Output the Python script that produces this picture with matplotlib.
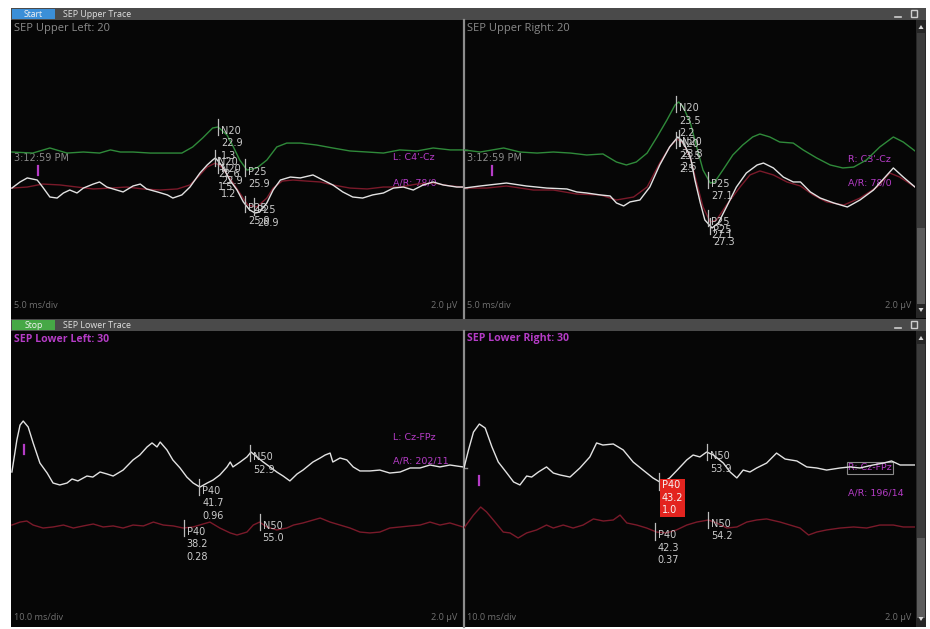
import numpy as np
import matplotlib
matplotlib.use("Agg")
import matplotlib.pyplot as plt
from matplotlib.patches import Rectangle, Polygon

# ---------------------------------------------------------------- data
# Upper montage (5.0 ms/div, 2.0 uV/div): time in ms, amplitude in uV
UL_T_GREEN = [0.1, 2.4, 4.3, 6.2, 8.0, 9.8, 11.0, 12.1, 13.5, 15.4, 17.3, 18.9, 20.1, 21.2, 22.3,
              22.9, 23.9, 24.6, 25.3, 26.1, 27.2, 28.3, 29.4, 30.5, 32.0, 33.8, 35.6, 37.5, 39.4,
              41.2, 43.0, 44.9, 46.7, 48.6, 50.0]
UL_V_GREEN = [1.14, 1.07, 1.41, 1.07, 1.14, 1.07, 1.28, 1.14, 1.14, 1.07, 1.07, 1.07, 1.48, 2.08,
              2.75, 2.82, 2.28, 1.48, 0.60, -0.07, 0.07, 0.60, 1.48, 1.74, 1.74, 1.61, 1.41, 1.21,
              1.14, 1.07, 1.28, 1.21, 1.41, 1.28, 1.28]
UL_T_WHITE = [0.1, 1.0, 1.8, 2.9, 3.5, 4.3, 5.1, 5.8, 6.5, 7.3, 8.0, 9.1, 9.8, 10.6, 11.3, 12.4,
              13.5, 14.3, 15.0, 16.2, 17.3, 17.9, 18.9, 19.8, 20.9, 21.7, 22.3, 22.6, 23.1, 23.5,
              24.2, 25.0, 25.7, 26.4, 27.0, 27.5, 28.3, 29.0, 29.8, 30.9, 32.0, 33.4, 34.5, 35.6,
              36.7, 37.8, 38.9, 40.0, 41.2, 42.3, 43.4, 44.5, 45.6, 46.7, 47.8, 49.3, 50.0]
UL_V_WHITE = [-1.28, -0.87, -0.60, -0.74, -1.21, -1.88, -1.95, -1.61, -1.41, -1.61, -1.28, -1.01,
              -0.87, -1.21, -1.34, -1.54, -1.14, -1.01, -1.34, -1.54, -1.74, -1.95, -1.74, -1.21,
              -0.27, 0.27, 0.60, 0.74, 0.40, 0.07, -0.74, -1.41, -2.21, -2.75, -2.95, -2.89,
              -2.28, -1.41, -0.74, -0.54, -0.60, -0.40, -0.74, -1.07, -1.54, -1.88, -1.95, -1.74,
              -1.61, -1.28, -1.21, -1.41, -1.07, -0.87, -1.07, -1.21, -1.21]
UL_T_RED = [0.1, 1.8, 3.5, 5.4, 7.3, 9.1, 11.0, 12.8, 14.6, 16.5, 18.4, 19.8, 20.9, 21.7, 22.6,
            23.3, 24.2, 25.3, 26.2, 27.2, 28.3, 29.0, 30.0, 31.2, 32.7, 34.2, 35.6, 37.5, 39.4,
            41.2, 43.0, 44.9, 46.7, 48.6, 50.0]
UL_V_RED = [-1.28, -1.21, -1.01, -1.07, -1.21, -1.34, -1.28, -1.21, -1.34, -1.41, -1.34, -1.07,
            -0.40, 0.13, 0.40, 0.13, -0.60, -1.61, -2.42, -2.55, -1.95, -1.28, -0.81, -0.74, -0.81,
            -0.87, -1.07, -1.28, -1.34, -1.21, -1.21, -1.01, -0.94, -1.14, -1.21]

UR_T_GREEN = [0.0, 1.8, 4.4, 6.2, 8.1, 9.9, 11.8, 13.6, 15.4, 16.9, 18.0, 19.1, 20.3, 21.4, 22.5,
              23.4, 23.8, 24.3, 25.1, 25.8, 26.5, 27.3, 27.8, 28.7, 29.8, 30.9, 32.0, 32.8, 33.9,
              35.0, 36.5, 37.6, 39.1, 40.6, 42.0, 43.2, 44.6, 46.1, 47.6, 48.7, 50.0]
UR_V_GREEN = [1.28, 1.14, 1.41, 1.14, 1.07, 1.14, 1.07, 0.94, 1.01, 0.47, 0.27, 0.47, 1.07, 2.15,
              3.29, 4.30, 4.50, 4.16, 3.09, 1.48, -0.07, -0.94, -0.87, -0.07, 0.94, 1.61, 2.15,
              2.35, 2.15, 1.81, 1.74, 1.28, 0.74, 0.27, 0.07, 0.13, 0.60, 1.48, 2.15, 1.81, 1.21]
UR_T_WHITE = [0.0, 1.8, 4.7, 6.9, 9.2, 11.4, 12.5, 13.6, 15.1, 16.2, 16.9, 17.7, 18.4, 19.5, 20.6,
              21.7, 22.8, 23.7, 24.3, 25.1, 25.6, 26.2, 26.7, 27.5, 28.2, 29.1, 30.2, 31.3, 32.5,
              33.2, 34.3, 35.4, 36.5, 37.3, 38.4, 39.5, 41.0, 42.5, 43.9, 45.4, 46.9, 47.6, 48.7,
              50.0]
UR_V_WHITE = [-1.28, -1.14, -0.94, -1.14, -1.28, -1.34, -1.54, -1.61, -1.74, -1.81, -2.28, -2.48,
              -2.21, -2.08, -1.21, 0.27, 1.48, 2.15, 1.81, 0.81, -0.74, -2.28, -3.42, -3.96, -3.62,
              -2.55, -1.21, -0.27, 0.27, 0.40, 0.07, -0.54, -0.87, -0.87, -1.54, -1.95, -2.28,
              -2.55, -2.08, -1.41, -0.40, 0.07, -0.54, -1.21]
UR_T_RED = [0.0, 2.5, 4.7, 7.7, 9.9, 12.5, 15.1, 16.9, 18.8, 20.3, 21.7, 22.8, 23.6, 24.3, 25.1,
            25.8, 26.5, 27.3, 28.0, 29.1, 30.6, 31.7, 32.8, 34.3, 35.8, 37.3, 38.7, 40.2, 42.1,
            43.9, 45.8, 47.2, 48.3, 50.0]
UR_V_RED = [-1.28, -1.28, -1.14, -1.41, -1.41, -1.68, -1.74, -2.08, -1.88, -1.21, 0.40, 1.48, 2.01,
            1.74, 0.74, -0.94, -2.55, -3.56, -3.42, -2.42, -1.21, -0.40, -0.13, -0.40, -0.87,
            -1.14, -1.74, -2.21, -2.42, -1.95, -1.21, -0.27, -0.54, -1.21]

# Lower montage (10.0 ms/div, 2.0 uV/div)
LL_T_WHITE = [0.2, 1.3, 2.0, 2.7, 3.8, 4.9, 6.4, 8.0, 9.3, 10.8, 12.4, 13.5, 14.8, 16.8, 18.1,
              19.7, 21.2, 22.6, 24.8, 27.0, 28.5, 30.1, 31.2, 32.3, 33.0, 34.5, 35.8, 37.4, 38.9,
              40.3, 41.8, 43.4, 44.7, 46.2, 47.8, 48.5, 49.1, 50.7, 52.2, 53.1, 54.4, 55.8, 57.3,
              58.8, 60.2, 61.7, 63.3, 64.6, 66.8, 68.4, 69.5, 70.6, 71.2, 72.8, 74.3, 75.7, 77.2,
              79.4, 81.6, 83.8, 86.1, 88.3, 90.5, 92.7, 94.9, 97.1, 100.0]
LL_V_WHITE = [0.47, 2.62, 3.62, 3.89, 3.49, 2.42, 1.07, 0.40, -0.27, -0.40, -0.27, 0.00, -0.13,
              0.20, 0.13, 0.47, 0.34, 0.20, 0.60, 1.28, 1.61, 2.15, 2.42, 2.15, 2.48, 1.95, 1.28,
              0.74, 0.13, -0.27, -0.54, -0.27, -0.07, 0.27, 0.81, 1.14, 0.81, 1.14, 1.48, 1.81,
              1.48, 1.14, 0.81, 0.47, 0.20, -0.13, 0.34, 0.60, 1.14, 1.41, 1.61, 1.74, 1.14, 1.41,
              1.28, 0.81, 0.54, 0.54, 0.60, 0.40, 0.47, 0.74, 0.74, 0.94, 0.81, 0.94, 0.81]
LL_T_RED = [0.2, 2.0, 3.5, 4.9, 7.1, 9.3, 11.6, 13.8, 16.0, 18.2, 20.4, 22.6, 24.8, 27.0, 29.3,
            31.5, 33.7, 35.9, 38.1, 40.3, 42.5, 44.0, 46.2, 48.5, 50.0, 52.2, 53.6, 55.0, 56.6,
            58.8, 61.0, 62.5, 64.6, 66.9, 68.4, 70.6, 72.8, 75.0, 77.2, 79.4, 81.6, 83.8, 86.1,
            88.3, 90.5, 92.7, 94.9, 97.1, 100.0]
LL_V_RED = [-3.09, -2.89, -2.82, -3.09, -3.29, -3.22, -3.09, -3.29, -3.15, -3.02, -3.22, -3.15,
            -3.29, -3.09, -3.15, -2.89, -3.09, -3.15, -3.29, -3.22, -3.02, -2.89, -3.29, -3.62,
            -3.76, -3.56, -3.09, -2.89, -3.22, -3.42, -3.29, -3.09, -2.95, -2.75, -2.62, -2.89,
            -3.09, -3.29, -3.56, -3.62, -3.56, -3.29, -3.22, -3.15, -3.09, -2.89, -3.09, -2.95,
            -3.22]

LR_T_WHITE = [0.0, 1.0, 2.1, 3.4, 4.7, 6.2, 7.6, 9.5, 11.0, 12.4, 13.9, 15.0, 16.5, 18.3, 19.8,
              21.3, 23.5, 25.7, 27.9, 29.4, 30.8, 33.1, 35.3, 37.5, 39.7, 41.9, 43.8, 45.6, 47.1,
              49.4, 50.8, 52.3, 53.8, 55.3, 57.5, 59.0, 60.5, 61.9, 63.4, 64.9, 67.1, 69.3, 71.2,
              73.8, 76.0, 78.2, 80.4, 83.4, 85.6, 87.8, 90.7, 93.0, 94.8, 96.7, 100.0]
LR_V_WHITE = [0.74, 1.95, 3.15, 3.69, 3.42, 2.15, 1.14, 0.40, -0.20, -0.40, 0.20, 0.13, 0.47, 0.81,
              0.40, 0.27, 0.13, 0.74, 1.48, 2.42, 2.28, 2.35, 1.95, 1.14, 0.60, 0.07, -0.27, 0.07,
              0.54, 1.28, 1.61, 1.48, 1.81, 1.61, 1.07, 0.47, 0.07, 0.60, 0.47, 0.74, 1.07, 1.74,
              1.34, 1.21, 0.81, 0.74, 0.60, 0.74, 0.81, 0.74, 0.94, 1.07, 1.21, 0.94, 0.94]
LR_T_RED = [0.0, 2.1, 3.7, 5.0, 6.5, 8.7, 10.2, 12.0, 13.9, 16.1, 18.3, 19.8, 22.0, 24.2, 26.4,
            28.7, 30.9, 33.1, 34.6, 36.1, 38.3, 40.5, 42.7, 44.9, 47.1, 49.4, 51.6, 54.2, 56.0,
            58.3, 60.5, 62.7, 64.9, 67.1, 70.1, 72.3, 74.5, 76.4, 78.2, 80.4, 83.4, 86.4, 89.3,
            92.2, 95.2, 97.4, 100.0]
LR_V_RED = [-3.29, -2.42, -1.88, -2.21, -2.75, -3.56, -3.62, -3.96, -3.62, -3.42, -3.09, -3.29,
            -3.09, -3.29, -3.09, -2.68, -2.82, -2.75, -2.42, -2.95, -3.09, -3.29, -3.56, -3.62,
            -3.42, -3.09, -2.89, -2.75, -2.95, -3.29, -3.22, -2.89, -2.75, -2.68, -2.89, -3.09,
            -3.29, -3.76, -3.56, -3.42, -3.29, -3.22, -3.29, -3.09, -3.09, -3.22, -3.22]

# Peak markers: (trace, component, latency ms, peak-to-peak uV)
UL_PEAKS = [("green", "N20", 22.9, "1.3"), ("green", "P25", 25.9, None),
            ("white", "N20", 22.6, "1.5"), ("white", "P25", 25.9, None),
            ("red", "N20", 22.9, "1.2"), ("red", "P25", 26.9, None)]
UR_PEAKS = [("green", "N20", 23.5, "2.2"), ("green", "P25", 27.1, None),
            ("white", "N20", 23.8, "2.6"), ("white", "P25", 27.3, None),
            ("red", "N20", 23.5, "2.5"), ("red", "P25", 27.1, None)]
LL_PEAKS = [("white", "P40", 41.7, "0.96"), ("white", "N50", 52.9, None),
            ("red", "P40", 38.2, "0.28"), ("red", "N50", 55.0, None)]
LR_PEAKS = [("white", "P40", 43.2, "1.0"), ("white", "N50", 53.9, None),
            ("red", "P40", 42.3, "0.37"), ("red", "N50", 54.2, None)]
SELECTED = ("LR", "white", "P40")

PANEL_TITLES = ["SEP Upper Left: 20", "SEP Upper Right: 20", "SEP Lower Left: 30", "SEP Lower Right: 30"]
CHANNELS = ["L: C4'-Cz", "R: C3'-Cz", "L: Cz-FPz", "R: Cz-FPz"]
ARTIFACTS = ["A/R: 78/0", "A/R: 78/0", "A/R: 202/11", "A/R: 196/14"]
TIMEBASE = ["5.0 ms/div", "5.0 ms/div", "10.0 ms/div", "10.0 ms/div"]
SENSITIVITY = "2.0 \u00b5V"
TIMESTAMP = "3:12:59 PM"

# ---------------------------------------------------------------- style
W, H = 930, 629
BG = "#060606"
BAR = "#4a4a4a"
COL = {"green": "#2f8a3a", "red": "#7a1a2a", "white": "#e2e2e2"}
LABEL_C = "#cccccc"
MAGENTA = "#b53cc6"
GREY_T = "#8a8a8a"

fig = plt.figure(figsize=(W / 100, H / 100), dpi=100)
fig.patch.set_facecolor("white")

# window chrome in pixel space
bg = fig.add_axes([0, 0, 1, 1])
bg.set_xlim(0, W)
bg.set_ylim(H, 0)
bg.axis("off")


def rect(x0, y0, x1, y1, color, **kw):
    bg.add_patch(Rectangle((x0, y0), x1 - x0, y1 - y0, facecolor=color, edgecolor="none", **kw))


rect(11, 8, 926, 627, BG)
for y0, y1, name, btn, btn_col in [(8, 20, "SEP Upper Trace", "Start", "#3b8fd8"),
                                    (319, 331, "SEP Lower Trace", "Stop", "#46a846")]:
    rect(11, y0, 926, y1, BAR)
    rect(12, y0 + 1, 55, y1 - 1, btn_col)
    bg.text(33.5, (y0 + y1) / 2 + 0.5, btn, color="#f2f2f2", fontsize=6.2, ha="center",
            va="center", family="Open Sans")
    bg.text(63, (y0 + y1) / 2 + 0.5, name, color="#e0e0e0", fontsize=6.4, ha="left",
            va="center", family="Open Sans")
    bg.plot([895, 901], [y0 + 8.5, y0 + 8.5], color="#cfcfcf", lw=1.2)
    bg.add_patch(Rectangle((911, y0 + 2), 6, 7, fill=False, edgecolor="#cfcfcf", lw=1.0))

# scrollbars
for y0, y1, thumb0, thumb1 in [(20, 318, 228, 304), (331, 627, 538, 618)]:
    rect(916, y0, 926, y1, "#262626")
    rect(917, y0 + 13, 925, y1 - 14, "#3b3b3b")
    rect(917, thumb0, 925, thumb1, "#5c5c5c")
    bg.add_patch(Polygon([[918.5, y0 + 9], [923.5, y0 + 9], [921, y0 + 5]], closed=True,
                         facecolor="#d8d8d8", edgecolor="none"))
    bg.add_patch(Polygon([[918.5, y1 - 10], [923.5, y1 - 10], [921, y1 - 6]], closed=True,
                         facecolor="#d8d8d8", edgecolor="none"))

# panel dividers
for y0, y1 in [(20, 318), (331, 627)]:
    bg.plot([463.5, 463.5], [y0, y1], color="#8c8c8c", lw=1.6)
for yb in (150, 188, 468):
    bg.plot([464, 467], [yb, yb], color="#8c8c8c", lw=1.0)

# ---------------------------------------------------------------- panels
PX_PER_UV = 14.9


def panel_axes(x0, y0, x1, y1, span):
    ax = fig.add_axes([x0 / W, 1 - y1 / H, (x1 - x0) / W, (y1 - y0) / H])
    half = (y1 - y0) / 2 / PX_PER_UV
    ax.set_xlim(0, span)
    ax.set_ylim(-half, half)
    ax.axis("off")
    return ax


panels = {
    "UL": dict(box=(11, 20, 463, 318), span=50,
               traces={"red": (UL_T_RED, UL_V_RED), "green": (UL_T_GREEN, UL_V_GREEN),
                       "white": (UL_T_WHITE, UL_V_WHITE)},
               peaks=UL_PEAKS, stim=(3.0, -0.1)),
    "UR": dict(box=(464, 20, 915, 318), span=50,
               traces={"red": (UR_T_RED, UR_V_RED), "green": (UR_T_GREEN, UR_V_GREEN),
                       "white": (UR_T_WHITE, UR_V_WHITE)},
               peaks=UR_PEAKS, stim=(3.1, -0.1)),
    "LL": dict(box=(11, 331, 463, 627), span=100,
               traces={"red": (LL_T_RED, LL_V_RED), "white": (LL_T_WHITE, LL_V_WHITE)},
               peaks=LL_PEAKS, stim=(2.9, 2.0)),
    "LR": dict(box=(464, 331, 915, 627), span=100,
               traces={"red": (LR_T_RED, LR_V_RED), "white": (LR_T_WHITE, LR_V_WHITE)},
               peaks=LR_PEAKS, stim=(3.3, -0.13)),
}

for key, p in panels.items():
    ax = panel_axes(*p["box"], p["span"])
    for name, (t, v) in p["traces"].items():
        ax.plot(t, v, color=COL[name], lw=1.0, solid_joinstyle="round", zorder=2)
    # stimulus marker
    st, sv = p["stim"]
    ax.plot([st, st], [sv - 0.3, sv + 0.3], color=MAGENTA, lw=1.6, zorder=3)
    for trace, comp, lat, amp in p["peaks"]:
        t, v = p["traces"][trace]
        y = float(np.interp(lat, t, v))
        ax.plot([lat, lat], [y - 0.55, y + 0.55], color="#bdbdbd", lw=0.9, zorder=4,
                clip_on=False)
        lines = [comp, f"{lat:.1f}"] + ([amp] if amp else [])
        selected = (key, trace, comp) == SELECTED
        bbox = dict(boxstyle="square,pad=0.18", fc="#e3241f", ec="none") if selected else None
        ax.annotate("\n".join(lines), xy=(lat, y), xytext=(3, 1), textcoords="offset pixels",
                    ha="left", va="top", fontsize=7, color="#f4f4f4" if selected else LABEL_C,
                    linespacing=1.3, family="DejaVu Sans", zorder=5, bbox=bbox,
                    annotation_clip=False)

# ---------------------------------------------------------------- panel texts
origins = [(11, 20), (464, 20), (11, 331), (464, 331)]
rights = [457, 911, 457, 911]
bottoms = [306, 306, 617, 617]
for i, (x0, y0) in enumerate(origins):
    upper = i < 2
    bg.text(x0 + 3, y0 + 8, PANEL_TITLES[i], color=GREY_T if upper else MAGENTA,
            fontsize=8 if upper else 7.6, fontweight="normal" if upper else "bold",
            ha="left", va="center", family="Open Sans")
    bg.text(x0 + 3, bottoms[i], TIMEBASE[i], color="#707070", fontsize=6.6, ha="left",
            va="center", family="Open Sans")
    bg.text(rights[i], bottoms[i], SENSITIVITY, color="#707070", fontsize=6.6, ha="right",
            va="center", family="Open Sans")

# time stamps and channel annotations
for x in (14, 467):
    bg.text(x, 158, TIMESTAMP, color=GREY_T, fontsize=7, ha="left", va="center",
            family="DejaVu Sans")
chan_pos = [(393, 157, 183), (848, 159, 183), (393, 438, 461), (848, 468, 493)]
for i, (x, yc, ya) in enumerate(chan_pos):
    kw = dict(color=MAGENTA, fontsize=6.8, ha="left", va="center", family="DejaVu Sans")
    if i == 3:
        kw["bbox"] = dict(boxstyle="square,pad=0.15", fc="none", ec="#8a8a8a", lw=0.8)
    bg.text(x, yc, CHANNELS[i], **kw)
    bg.text(x, ya, ARTIFACTS[i], color=MAGENTA, fontsize=6.8, ha="left", va="center",
            family="DejaVu Sans")

fig.savefig("out.png", dpi=100, facecolor=fig.get_facecolor())
